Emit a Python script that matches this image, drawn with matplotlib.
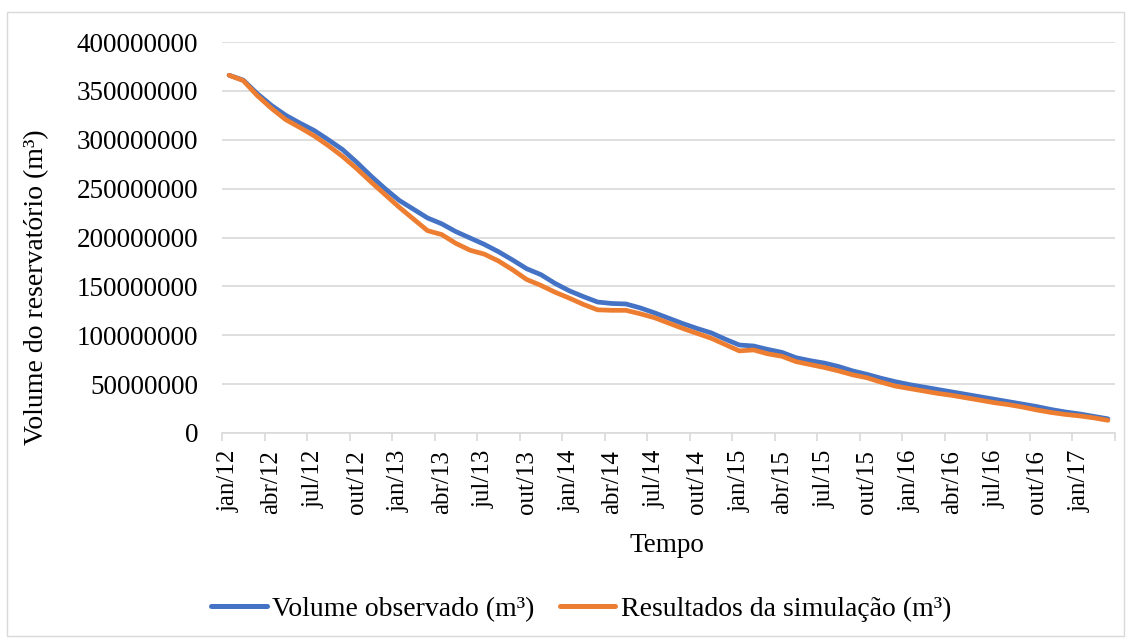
import matplotlib
matplotlib.use("Agg")
import matplotlib.pyplot as plt
from matplotlib.patches import Rectangle
from matplotlib.lines import Line2D
import numpy as np

# ---- data (volumes in millions of m³), monthly jan/12 .. mar/17 ----
months_pt = ["jan", "fev", "mar", "abr", "mai", "jun", "jul", "ago", "set", "out", "nov", "dez"]
categories = [f"{months_pt[m]}/{y}" for y in range(12, 18) for m in range(12)][:63]

observado_mi = [366, 361, 347, 335, 325, 317, 309.5, 300, 290, 277, 263, 250,
                238, 229, 220, 214, 206, 199.5, 193, 185.5, 177, 168, 162, 153,
                145.5, 139.5, 134, 132.5, 132, 128, 123, 117.5, 112, 107, 102.5, 96,
                90, 89, 85.5, 82.5, 77, 74, 71.5, 68, 63.5, 60, 56, 52.5,
                49.5, 47, 44.5, 42, 39.5, 37, 34.5, 32, 29.5, 27, 24, 21.5,
                19.5, 17, 14.5]
simulacao_mi = [366, 360.5, 345, 332, 320.5, 312.5, 304, 294, 283, 270.5, 257, 244,
                231, 219, 207, 203, 194, 187, 183, 176, 167, 157, 151, 144,
                138, 131.5, 126, 125.5, 125.5, 122, 118, 112.5, 107, 102, 97, 90.5,
                84, 85, 81, 78.5, 73, 70, 67, 63.5, 59.5, 56.5, 52, 48,
                45.5, 43, 40.5, 38.5, 36, 33.5, 31, 29, 26.5, 23.5, 21, 19,
                17.5, 15.5, 13]
yticks = [0, 50000000, 100000000, 150000000, 200000000, 250000000, 300000000, 350000000, 400000000]
label_step = 3

series_names = ["Volume observado (m³)", "Resultados da simulação (m³)"]
colors = ["#4472C4", "#ED7D31"]

plt.rcParams['font.family'] = ['Liberation Serif', 'DejaVu Serif']

W, H = 1131, 643
fig = plt.figure(figsize=(W / 100, H / 100), dpi=100)
left, right, top, bottom = 222, 1115, 42, 433
ax = fig.add_axes([left / W, 1 - bottom / H, (right - left) / W, (bottom - top) / H])

x = np.arange(len(categories))
obs = np.array(observado_mi) * 1e6
sim = np.array(simulacao_mi) * 1e6
ax.plot(x, obs, color=colors[0], lw=3.4, solid_capstyle='round', solid_joinstyle='round', zorder=3)
ax.plot(x, sim, color=colors[1], lw=3.4, solid_capstyle='round', solid_joinstyle='round', zorder=4)

ax.set_xlim(-0.5, len(categories) - 0.5)
ax.set_ylim(0, 400000000)
ax.set_yticks(yticks)
ax.set_yticklabels([str(v) for v in yticks])
ax.grid(axis='y', color='#D9D9D9', lw=1.2)
ax.set_axisbelow(True)

# tick marks at category boundaries every 3, labels at category centres
bounds = np.arange(-0.5, len(categories), label_step)
ax.set_xticks(bounds)
ax.set_xticklabels([])
ax.tick_params(axis='x', which='major', length=6, color='#D9D9D9', width=1.2)
lab_idx = x[::label_step]
ax.set_xticks(lab_idx, minor=True)
ax.set_xticklabels([categories[i] for i in lab_idx], minor=True, rotation=90, fontsize=18)
ax.tick_params(axis='x', which='minor', length=0, pad=12)
ax.tick_params(axis='y', length=0, pad=17, labelsize=19.5)

for s in ['top', 'right', 'left']:
    ax.spines[s].set_visible(False)
ax.spines['bottom'].set_color('#D9D9D9')
ax.spines['bottom'].set_linewidth(1.2)

fig.text(37 / W, 1 - 287 / H, "Volume do reservatório (m³)", rotation=90,
         ha='center', va='center', fontsize=20)
fig.text(667 / W, 1 - 545 / H, "Tempo", ha='center', va='center', fontsize=19.5)

handles = [Line2D([], [], color=c, lw=3.6, solid_capstyle='round') for c in colors]
fig.legend(handles, series_names, loc='center', bbox_to_anchor=(581 / W, 1 - 609 / H),
           ncol=2, frameon=False, fontsize=20, handlelength=2.0, handletextpad=0.2,
           columnspacing=0.9, borderpad=0, borderaxespad=0)

fig.patches.append(Rectangle((7 / W, 1 - 636 / H), (1124 - 7) / W, (636 - 12) / H,
                             transform=fig.transFigure, fill=False, edgecolor='#D9D9D9', lw=1))

fig.savefig("out.png", dpi=100)
